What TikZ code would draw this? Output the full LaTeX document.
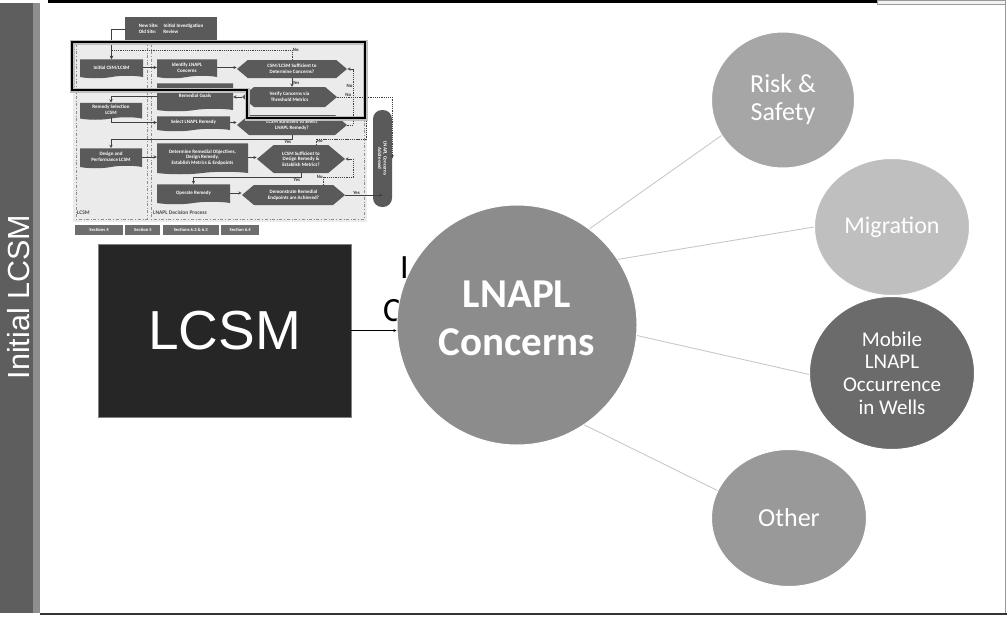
\documentclass[tikz,border=0pt]{standalone}
\usepackage{fontspec}
\setmainfont{Carlito}
\newfontfamily\arialfont{Liberation Sans}
\usepackage{tikz}
\usetikzlibrary{shapes.geometric, shapes.symbols, shapes.misc, arrows}
\usetikzlibrary{positioning}
\definecolor{barGray}{HTML}{5E5E5E}
\definecolor{barLight}{HTML}{8E8E8E}
\definecolor{lcsmBlack}{HTML}{262626}
\definecolor{concernGray}{HTML}{8C8C8C}
\definecolor{riskGray}{HTML}{A6A6A6}
\definecolor{migrationGray}{HTML}{BFBFBF}
\definecolor{mobileGray}{HTML}{6B6B6B}
\definecolor{otherGray}{HTML}{999999}
\definecolor{spokeGray}{HTML}{C8C8C8}
\definecolor{boxGray}{HTML}{5A5A5A}
\definecolor{tabGray}{HTML}{6E6E6E}
\definecolor{laneFill}{HTML}{EBEBEB}
\definecolor{laneLine}{HTML}{8F8F8F}
\newcommand{\thumbfont}{\fontsize{5}{5.6}\selectfont\bfseries}
\tikzstyle{arrow} = [thin,->,>=stealth]
\tikzstyle{satNode} = [
        ellipse, 
        text centered, 
        align=center,
        draw=white, 
        line width=1pt,
        text=white,
        inner sep=0pt
    ]
\tikzstyle{spoke} = [draw=spokeGray, line width=0.9pt]
\tikzstyle{docBox} = [tape, tape bend top=none, tape bend height=2.5pt, fill=boxGray, text=white, font=\thumbfont, align=center, inner sep=0.5pt]
\tikzstyle{decBox} = [signal, signal to=east and west, signal pointer angle=80, fill=boxGray, text=white, font=\thumbfont, align=center, inner sep=0.5pt]
\tikzstyle{tabBox} = [rectangle, fill=tabGray, text=white, font=\fontsize{4.6}{5}\selectfont\bfseries, minimum height=10pt, inner sep=0pt]
\tikzstyle{flowLine} = [->, >=stealth, line width=0.5pt, draw=black!75]
\tikzstyle{noLine} = [flowLine, dash pattern=on 1.3pt off 0.9pt]
\tikzstyle{ynLbl} = [font=\fontsize{4.8}{5}\selectfont\bfseries, text=black!80, inner sep=0.6pt]

\begin{document}
\begin{tikzpicture}[x=1pt, y=-1pt]
    \useasboundingbox (0,0) rectangle (1007,616);
    % slide frame
    \fill[barGray] (0,3) rectangle (40,613);
    \fill[barLight] (33,3) rectangle (40,613);
    \draw[black, line width=3pt] (48,1.5) -- (877,1.5);
    \draw[gray!80, line width=0.8pt, fill=gray!10] (877,0.4) rectangle (1005,4.2);
    \draw[gray!80, line width=1pt] (1005,4) -- (1005,613);
    \draw[black!80, line width=2pt] (40,614) -- (1007,614);
    \node (sideTitle) [rotate=90, text=white, font=\arialfont\fontsize{30.5}{32}\selectfont] at (19,297) {Initial LCSM};

    % thumbnail of the decision process
    \fill[laneFill] (73,41) rectangle (367,222);
    \draw[laneLine, dash dot, line width=0.6pt] (76,44) rectangle (147,219);
    \draw[laneLine, dash dot, line width=0.6pt] (151,44) rectangle (364,219);
    \node (lcsmLane) [anchor=west, font=\fontsize{5.5}{6}\selectfont\bfseries, text=black!70, inner sep=0pt] at (77,213) {LCSM};
    \node (processLane) [anchor=west, font=\fontsize{5.5}{6}\selectfont\bfseries, text=black!70, inner sep=0pt] at (153,213) {LNAPL Decision Process};

    \node (newSite) [rectangle, fill=boxGray, text=white, font=\thumbfont, align=left, minimum width=92pt, minimum height=24pt, inner sep=1.5pt] at (171,29) {New Site:\quad Initial Investigation\\Old Site:\quad\ \,Review};
    \node (init) [docBox, minimum width=63pt, minimum height=19pt] at (111.5,67.5) {Initial CSM/LCSM};
    \node (rsel) [docBox, minimum width=62pt, minimum height=17pt] at (111,110) {Remedy Selection\\LCSM};
    \node (dperf) [docBox, minimum width=62pt, minimum height=20pt] at (111,157) {Design and\\Performance LCSM};
    \node (ident) [docBox, minimum width=60pt, minimum height=19pt] at (187,67.5) {Identify LNAPL\\Concerns};
    \node (goals) [docBox, minimum width=76pt, minimum height=28pt] at (195,96) {Remedial Goals};
    \node (selrem) [docBox, minimum width=73pt, minimum height=15pt] at (193.5,122.5) {Select LNAPL Remedy};
    \node (detobj) [docBox, minimum width=91pt, minimum height=31pt] at (202.5,157.5) {Determine Remedial Objectives,\\Design Remedy,\\Establish Metrics \& Endpoints};
    \node (oper) [docBox, minimum width=73pt, minimum height=20pt] at (193.5,193) {Operate Remedy};
    \node (d1) [decBox, minimum width=110pt, minimum height=18pt] at (292,69) {CSM/LCSM Sufficient to\\Determine Concerns?};
    \node (d2) [decBox, minimum width=95pt, minimum height=20pt] at (289.5,97) {Verify Concerns via\\Threshold Metrics};
    \node (d3) [decBox, minimum width=110pt, minimum height=20pt] at (292,125) {LCSM Sufficient to Select\\LNAPL Remedy?};
    \node (d4) [decBox, minimum width=88pt, minimum height=28pt] at (301,159) {LCSM Sufficient to\\Design Remedy \&\\Establish Metrics?};
    \node (d5) [decBox, minimum width=103pt, minimum height=20pt] at (293.5,195) {Demonstrate Remedial\\Endpoints are Achieved?};
    \node (addr) [rectangle, rounded corners=9pt, fill=boxGray, text=white, font=\thumbfont, align=center, minimum width=97pt, minimum height=19pt, inner sep=0.5pt, rotate=-90] at (382.5,158.5) {LNAPL Concerns\\Addressed};
    \coordinate (noJoin) at (366,97);

    \draw[flowLine] (newSite.west) -| (init.north);
    \draw[flowLine] (init.east) -- (init.east -| ident.west);
    \draw[flowLine] (ident.east) -- (ident.east -| d1.west);
    \draw[flowLine] (d1.south) -- node[ynLbl, right] {Yes} (d1.south |- d2.north);
    \draw[noLine] (d1.north) -- ++(0,-10) node[ynLbl, right] {No} -| (init.north);
    \draw[flowLine] (d2.west) -- (d2.west -| goals.east);
    \draw[noLine] (d2.east) -- node[ynLbl, above, pos=0.2] {No} (d2.east -| addr.north) -- (addr.north);
    \draw[flowLine] (goals.west) -| (rsel.north);
    \draw[flowLine] (rsel.south) |- (selrem.west);
    \draw[flowLine] (selrem.east) -- (selrem.east -| d3.west);
    \draw[noLine] (d3.east) -- ++(6,0) |- node[ynLbl, left, pos=0.35] {No} (d1.east);
    \draw[flowLine] (d3.south) -- ++(0,4) node[ynLbl, below left] {Yes} -| (dperf.north);
    \draw[flowLine] (dperf.east) -- (dperf.east -| detobj.west);
    \draw[flowLine] (detobj.east) -- (detobj.east -| d4.west);
    \draw[noLine, -] ([xshift=15pt]d4.north) -- ++(0,-6) node[ynLbl, below right] {No} -| (noJoin);
    \draw[flowLine] (d4.south) -- ++(0,4) node[ynLbl, below left] {Yes} -| (oper.north);
    \draw[flowLine] (oper.east) -- (oper.east -| d5.west);
    \draw[noLine] ([xshift=30pt]d5.north) -- ++(0,-8) node[ynLbl, left] {No} -| ([xshift=8pt]d4.east) -- (d4.east);
    \draw[flowLine] (d5.east) -- node[ynLbl, above, pos=0.3] {Yes} (d5.east -| addr.west);

    \draw[black!25, line width=5pt] (72,42) -- (365,42) -- (365,118) -- (247,118) -- (247,90) -- (72,90) -- cycle;
    \draw[black, line width=2.5pt] (72,42) -- (365,42) -- (365,118) -- (247,118) -- (247,90) -- (72,90) -- cycle;

    \node (tab1) [tabBox, minimum width=48pt] at (99,230) {Sections 4};
    \node (tab2) [tabBox, minimum width=35pt, right=2pt of tab1] {Section 5};
    \node (tab3) [tabBox, minimum width=56pt, right=2pt of tab2] {Sections 6.2 \& 6.3};
    \node (tab4) [tabBox, minimum width=38pt, right=2pt of tab3] {Section 6.4};

    % LCSM and its concerns
    \node (lcsm) [rectangle, fill=lcsmBlack, draw=gray, minimum width=253pt, minimum height=173pt, text=white, font=\arialfont\fontsize{55}{60}\selectfont] at (224.5,330.5) {LCSM};
    \node (hiddenI) [anchor=base west, inner sep=0pt, font=\fontsize{34}{41}\selectfont] at (400,278) {I};
    \node (hiddenC) [anchor=base west, inner sep=0pt, font=\fontsize{34}{41}\selectfont] at (383,321) {C};
    \node (concerns) [circle, fill=concernGray, draw=white, line width=1pt, minimum size=240pt, inner sep=0pt, text=white, align=center, text depth=14pt, font=\bfseries\fontsize{41}{48}\selectfont] at (517,325) {LNAPL\\Concerns};
    \draw [arrow] (lcsm.east) -- (lcsm.east -| concerns.west);

    \node (risk) [satNode, fill=riskGray, minimum width=143pt, minimum height=136pt, font=\fontsize{26}{28}\selectfont] at (783,100) {Risk \&\\Safety};
    \node (migration) [satNode, fill=migrationGray, minimum width=155pt, minimum height=137pt, font=\fontsize{24}{26}\selectfont] at (892,227) {Migration};
    \node (mobile) [satNode, fill=mobileGray, minimum width=165pt, minimum height=153pt, font=\fontsize{21}{22.6}\selectfont] at (892,373) {Mobile\\LNAPL\\Occurrence\\in Wells};
    \node (other) [satNode, fill=otherGray, minimum width=155pt, minimum height=137pt, font=\fontsize{26}{28}\selectfont] at (789,518) {Other};

    \draw [spoke] (concerns.53) -- (risk.210);
    \draw [spoke] (concerns.33) -- (migration.180);
    \draw [spoke] (concerns.355) -- (mobile.181);
    \draw [spoke] (concerns.304) -- (other.159);
\end{tikzpicture}
\end{document}
